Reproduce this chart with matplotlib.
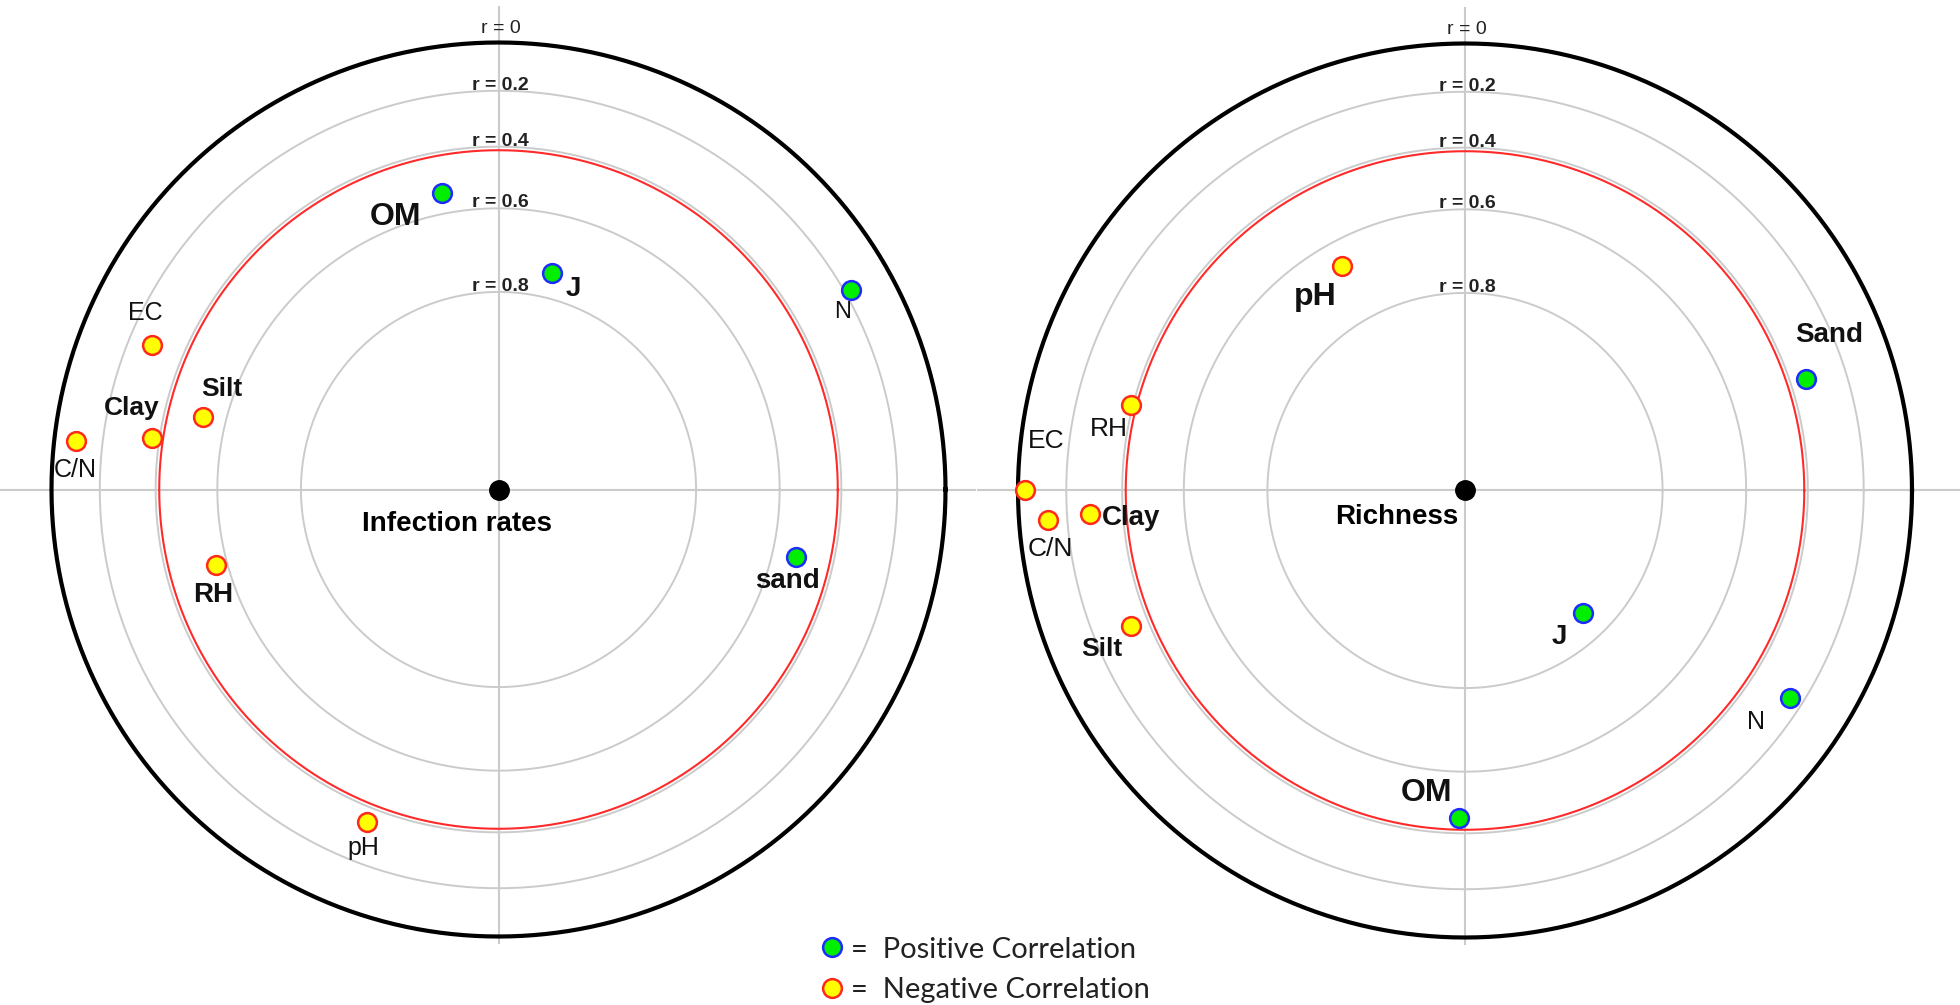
import matplotlib.pyplot as plt
from matplotlib.lines import Line2D
import numpy as np

plt.rcParams['font.family'] = ['Liberation Sans', 'DejaVu Sans']

# rings of |r| (radius 1 = r = 0, outer circle)
ring_labels = ['r = 0', 'r = 0.2', 'r = 0.4', 'r = 0.6', 'r = 0.8']
ring_radius = [1.0, 0.892, 0.767, 0.629, 0.442]
sig_radius = 0.759   # red circle

# Infection rates (left)
inf_names = ['OM', 'J', 'N', 'sand', 'EC', 'Clay', 'Silt', 'C/N', 'RH', 'pH']
inf_x = [-0.127, 0.120, 0.788, 0.665, -0.775, -0.775, -0.662, -0.946, -0.633, -0.294]
inf_y = [0.663, 0.485, 0.447, -0.152, 0.324, 0.115, 0.162, 0.109, -0.168, -0.743]
inf_pos = [True, True, True, True, False, False, False, False, False, False]

# Richness (right)
ric_names = ['pH', 'Sand', 'RH', 'EC', 'C/N', 'Clay', 'Silt', 'J', 'N', 'OM']
ric_x = [-0.275, 0.762, -0.747, -0.984, -0.933, -0.838, -0.747, 0.263, 0.728, -0.014]
ric_y = [0.502, 0.249, 0.191, 0.001, -0.066, -0.052, -0.304, -0.275, -0.465, -0.733]
ric_pos = [False, True, False, False, False, False, False, True, True, True]

# label offsets (points), size, bold
inf_style = {
    'OM': ((-33, -17), 23, True), 'J': ((15, -12), 20, True),
    'N': ((-6, -16), 17, False), 'sand': ((-6, -17), 20, True),
    'EC': ((-5, 23), 18, False), 'Clay': ((-15, 22), 19, True),
    'Silt': ((14, 20), 19, True), 'C/N': ((0, -21), 18, False),
    'RH': ((-2, -22), 20, True), 'pH': ((-3, -19), 18, False),
}
ric_style = {
    'pH': ((-19, -22), 23, True), 'Sand': ((17, 32), 20, True),
    'RH': ((-16, -17), 19, False), 'EC': ((15, 35), 19, False),
    'C/N': ((2, -21), 19, False), 'Clay': ((29, -3), 20, True),
    'Silt': ((-21, -16), 19, True), 'J': ((-17, -17), 20, True),
    'N': ((-25, -17), 18, False), 'OM': ((-23, 18), 23, True),
}

W, H, R = 1960, 1005, 447
fig = plt.figure(figsize=(W / 100, H / 100), dpi=100)
fig.patch.set_facecolor('white')

GRAY = '#cbcbcb'
theta = np.linspace(0, 2 * np.pi, 721)


def draw_panel(x0, cx, cy, title, title_off, names, xs, ys, pos, style, hline):
    ax = fig.add_axes([x0 / W, 0, 980 / W, 1])
    ax.set_xlim((x0 - cx) / R, (x0 + 980 - cx) / R)
    ax.set_ylim((cy - H) / R, cy / R)
    ax.set_aspect('equal')
    ax.axis('off')

    ax.plot(hline, [0, 0], color=GRAY, lw=1.5, clip_on=False, zorder=1)
    ax.plot([0, 0], [-1.015, 1.08], color=GRAY, lw=1.5, clip_on=False, zorder=1)
    for rad in ring_radius[1:]:
        ax.plot(rad * np.cos(theta), rad * np.sin(theta), color=GRAY, lw=1.4, zorder=1)
    ax.plot(sig_radius * np.cos(theta), sig_radius * np.sin(theta), color='#ff2a2a', lw=1.5, zorder=2)
    ax.plot(np.cos(theta), np.sin(theta), color='black', lw=3, zorder=2)

    for lab, rad in zip(ring_labels, ring_radius):
        if lab == 'r = 0':
            ax.text(0.005, rad + 0.021, lab, ha='center', va='baseline', fontsize=14,
                    color='#222222', zorder=3)
        else:
            ax.text(0.005, rad + 0.002, lab, ha='center', va='baseline', fontsize=14,
                    fontweight='bold', color='#222222', zorder=3)

    ax.plot(0, 0, 'o', color='black', ms=14, zorder=4)
    ax.annotate(title, (0, 0), xytext=title_off, textcoords='offset points',
                ha='center', va='center', fontsize=20, fontweight='bold')

    for n, x, y, p in zip(names, xs, ys, pos):
        fc, ec = ('#00ee00', '#1f2cff') if p else ('#ffff00', '#ff2a1a')
        ax.plot(x, y, 'o', ms=13.5, mfc=fc, mec=ec, mew=1.8, zorder=5)
        off, fs, bold = style[n]
        ax.annotate(n, (x, y), xytext=off, textcoords='offset points',
                    ha='center', va='center', fontsize=fs,
                    fontweight='bold' if bold else 'normal', color='#111111', zorder=6)


draw_panel(0, 498.5, 489.5, 'Infection rates', (-30, -25), inf_names, inf_x, inf_y,
           inf_pos, inf_style, [-1.115, 1.066])
draw_panel(980, 1465, 490.5, 'Richness', (-49, -19), ric_names, ric_x, ric_y,
           ric_pos, ric_style, [-1.09, 1.11])

handles = [
    Line2D([], [], ls='', marker='o', ms=13.5, mfc='#00ee00', mec='#1f2cff', mew=1.8),
    Line2D([], [], ls='', marker='o', ms=13.5, mfc='#ffff00', mec='#ff2a1a', mew=1.8),
]
leg = fig.legend(handles, ['=  Positive Correlation', '=  Negative Correlation'],
                 loc='upper left', bbox_to_anchor=(810 / W, 1 - 925 / H), frameon=False,
                 handlelength=0.7, handletextpad=0.3, labelspacing=0.5, borderaxespad=0,
                 prop={'family': ['Lato', 'DejaVu Sans'], 'size': 21})
for t in leg.get_texts():
    t.set_color('#222222')

fig.savefig('out.png', dpi=100, facecolor='white')
